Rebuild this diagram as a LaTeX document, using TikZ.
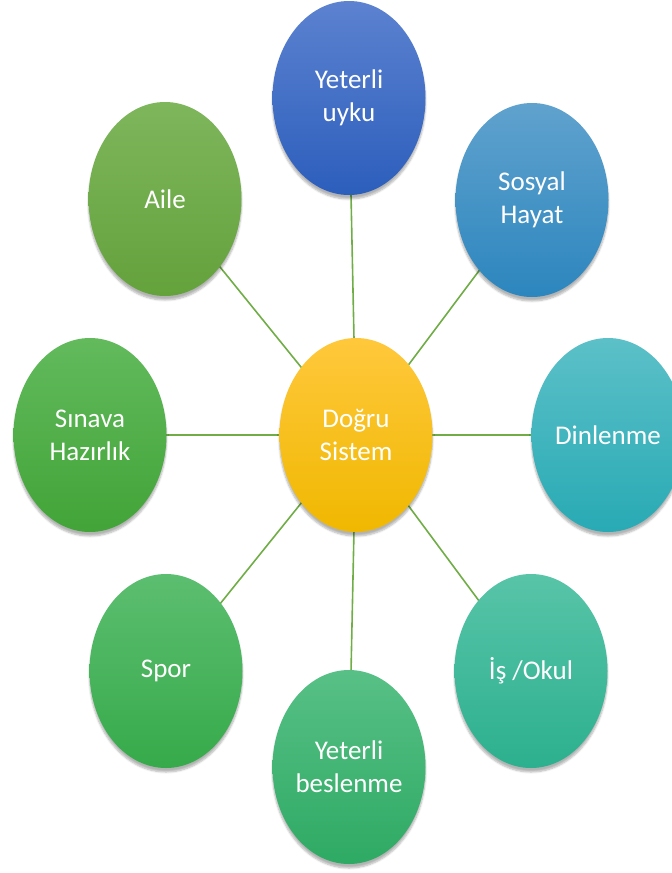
\documentclass[tikz,border=0pt]{standalone}
\usepackage{fontspec}
\setmainfont{Carlito}
\usetikzlibrary{shapes.geometric,shadows.blur}
\pgfdeclarelayer{background}
\pgfsetlayers{background,main}
\definecolor{lineGreen}{RGB}{112,173,71}
\definecolor{uykuT}{RGB}{92,130,208}\definecolor{uykuB}{RGB}{44,94,188}
\definecolor{sosT}{RGB}{96,162,206}\definecolor{sosB}{RGB}{44,134,190}
\definecolor{dinT}{RGB}{92,192,200}\definecolor{dinB}{RGB}{40,170,180}
\definecolor{isT}{RGB}{88,196,168}\definecolor{isB}{RGB}{44,176,142}
\definecolor{besT}{RGB}{88,192,134}\definecolor{besB}{RGB}{46,170,100}
\definecolor{sporT}{RGB}{92,190,112}\definecolor{sporB}{RGB}{54,170,74}
\definecolor{sinT}{RGB}{98,186,92}\definecolor{sinB}{RGB}{66,164,56}
\definecolor{aileT}{RGB}{126,182,92}\definecolor{aileB}{RGB}{100,162,60}
\definecolor{dogT}{RGB}{255,200,60}\definecolor{dogB}{RGB}{240,184,0}
\tikzset{
  bubble/.style={ellipse, minimum width=153pt, minimum height=194pt, inner sep=0pt,
    text=white, align=center, font=\fontsize{27}{33}\selectfont,
    blur shadow={shadow xshift=0pt, shadow yshift=-4pt, shadow opacity=30, shadow blur steps=6}},
  conn/.style={draw=lineGreen, line width=1.6pt}
}
\begin{document}
\begin{tikzpicture}[x=1pt,y=-1pt]
\useasboundingbox (0,0) rectangle (672,873);
\clip (0,0) rectangle (672,873);
\node[bubble, top color=dogT, bottom color=dogB] (c) at (356,435) {Doğru\\Sistem};
\node[bubble, top color=uykuT, bottom color=uykuB] (uyku) at (349,98) {Yeterli\\uyku};
\node[bubble, top color=sosT, bottom color=sosB] (sos) at (532,200) {Sosyal\\Hayat};
\node[bubble, top color=dinT, bottom color=dinB] (din) at (608,435) {Dinlenme};
\node[bubble, top color=isT, bottom color=isB] (is) at (531,671) {İş /Okul};
\node[bubble, top color=besT, bottom color=besB] (bes) at (349,767) {Yeterli\\beslenme};
\node[bubble, top color=sporT, bottom color=sporB] (spor) at (166,671) {Spor};
\node[bubble, top color=sinT, bottom color=sinB] (sin) at (90,435) {Sınava\\Hazırlık};
\node[bubble, top color=aileT, bottom color=aileB] (aile) at (165,199) {Aile};
\begin{pgfonlayer}{background}
\foreach \n in {uyku,sos,din,is,bes,spor,sin,aile}
  \draw[conn] (c.center) -- (\n.center);
\end{pgfonlayer}
\end{tikzpicture}
\end{document}
